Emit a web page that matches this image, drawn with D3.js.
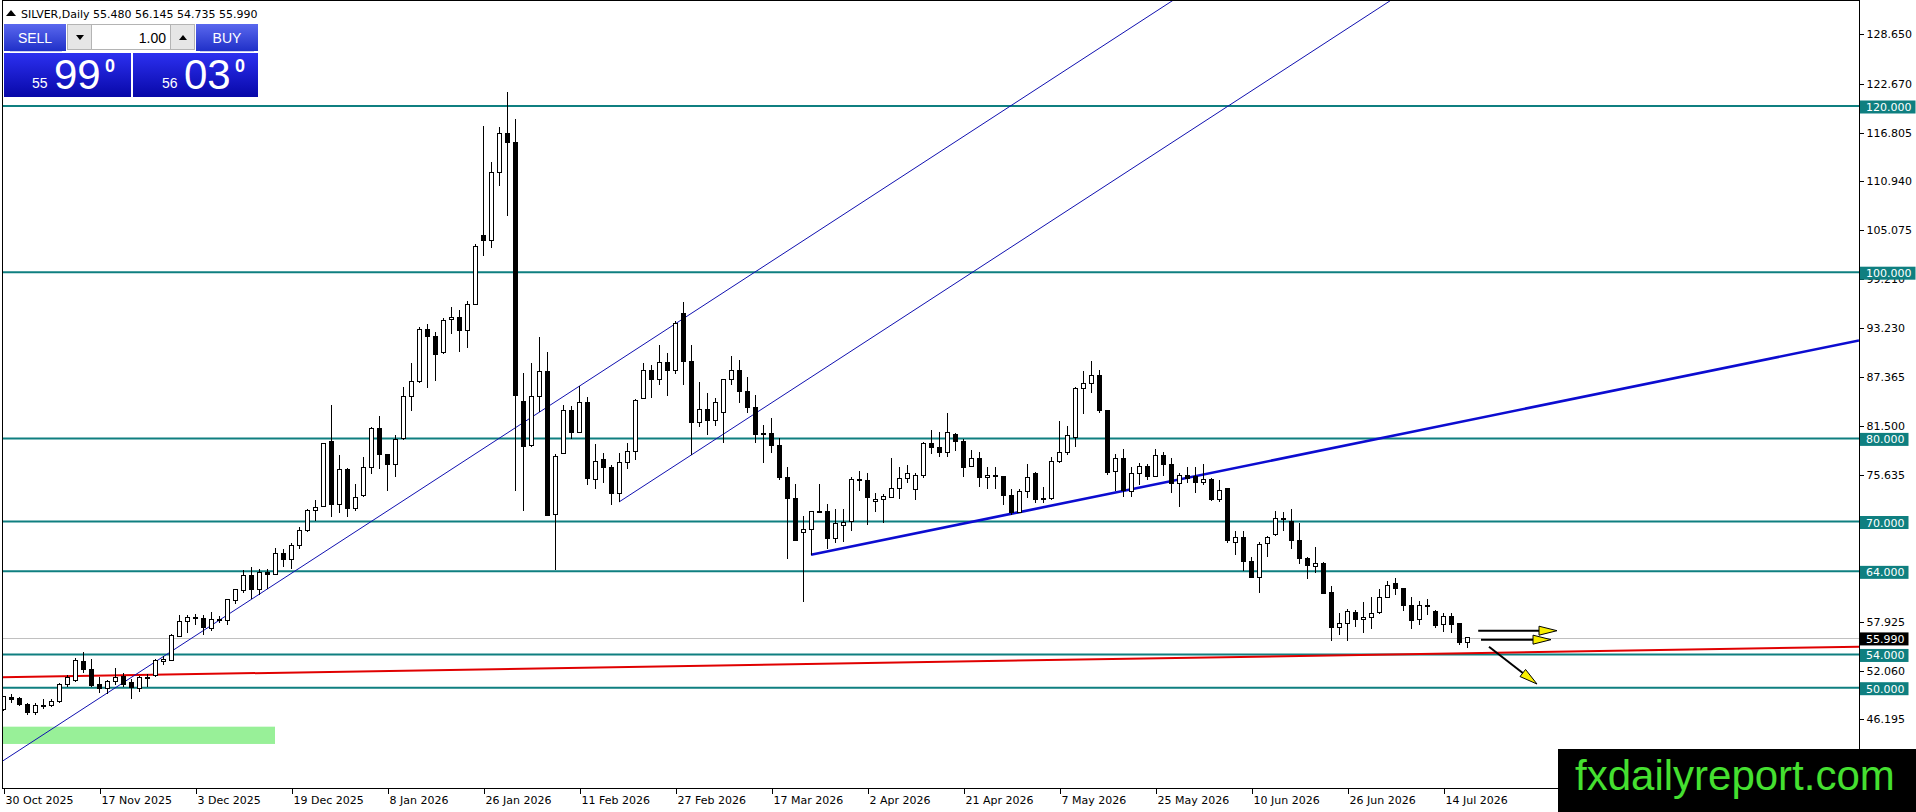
<!DOCTYPE html>
<html>
<head>
<meta charset="utf-8">
<script src="https://cdnjs.cloudflare.com/ajax/libs/d3/7.8.5/d3.min.js"></script>
<style>
  html, body { margin: 0; padding: 0; background: #fff; overflow: hidden; }
  #chart { width: 1916px; height: 812px; }
  svg { display: block; }
  .axis text { font-family: "DejaVu Sans", sans-serif; font-size: 11px; fill: #000; }
  .axis line { stroke: #000; shape-rendering: crispEdges; }
</style>
</head>
<body>
<div id="chart"></div>
<script>
//data
const tickLabels = ["30 Oct 2025","17 Nov 2025","3 Dec 2025","19 Dec 2025","8 Jan 2026","26 Jan 2026",
    "11 Feb 2026","27 Feb 2026","17 Mar 2026","2 Apr 2026","21 Apr 2026","7 May 2026",
    "25 May 2026","10 Jun 2026","26 Jun 2026","14 Jul 2026"];

const opens = [47.40,48.84,48.68,47.98,46.99,47.75,47.88,48.28,50.36,50.84,
    53.18,52.21,50.36,49.96,50.69,51.33,50.60,49.96,51.09,51.49,
    53.18,53.25,56.14,57.91,58.47,58.31,57.11,58.23,58.07,60.48,
    61.67,63.52,61.84,63.92,63.68,66.17,65.45,67.13,68.90,71.30,
    71.80,79.57,72.02,76.20,71.62,73.07,76.52,81.25,78.04,76.84,
    79.97,85.10,86.87,93.16,92.24,90.36,94.33,94.57,92.96,96.13,
    104.40,103.84,112.02,116.67,115.63,84.50,79.13,85.07,88.11,70.86,
    78.24,83.30,80.73,84.26,75.10,77.48,76.52,73.39,77.08,78.45,
    84.78,88.23,87.11,89.19,88.15,94.97,89.27,81.89,83.50,82.13,
    83.10,87.03,88.23,85.66,83.74,80.55,80.60,79.17,75.31,72.75,
    68.65,69.06,71.23,71.23,67.93,69.54,69.94,75.08,74.91,72.35,
    72.67,72.91,73.95,75.23,73.87,75.48,79.41,78.93,78.28,80.45,
    79.65,76.60,77.64,75.32,75.56,75.47,73.07,71.14,73.63,75.80,
    72.80,72.75,77.24,78.28,80.13,86.06,86.55,87.51,83.34,76.04,
    77.56,73.63,75.80,76.60,75.39,77.96,76.84,74.59,75.50,75.40,
    74.67,75.10,72.59,73.95,67.45,68.10,65.21,63.28,67.30,68.41,
    70.20,69.94,67.77,65.53,64.56,64.96,61.50,57.26,57.75,59.00,
    58.23,58.47,59.03,60.87,62.48,61.92,59.91,58.23,59.91,59.19,
    57.58,58.54,57.67,55.48];

const highs = [49.00,49.24,48.92,48.10,48.10,48.68,48.68,50.52,51.49,53.57,
    54.30,53.41,51.33,50.93,52.37,51.73,51.09,51.41,51.65,53.50,
    53.81,56.46,58.79,58.71,58.87,58.71,59.11,58.63,60.70,61.84,
    64.16,64.56,64.32,64.24,66.81,66.65,67.37,69.30,71.54,72.59,
    79.40,83.98,77.96,76.40,74.51,77.72,81.40,82.70,78.10,80.37,
    86.22,89.04,93.37,93.73,92.84,94.53,95.81,95.41,96.53,103.36,
    117.63,113.30,117.47,121.64,118.44,87.87,89.07,92.20,90.44,78.09,
    84.02,83.86,86.27,84.98,79.33,78.20,76.84,78.20,79.41,84.70,
    89.04,88.80,91.28,90.32,94.09,96.41,91.20,86.79,85.42,84.86,
    87.10,89.92,89.43,87.35,85.26,81.57,82.45,80.05,76.60,74.51,
    70.66,71.30,74.51,72.11,71.47,71.54,75.32,76.04,75.80,73.47,
    73.30,77.64,76.60,76.76,75.80,79.57,81.01,80.77,83.10,80.61,
    79.89,78.60,78.36,76.60,76.60,75.50,73.87,73.87,76.92,75.96,
    74.11,77.72,82.13,81.49,86.22,88.15,89.35,88.23,83.40,78.12,
    78.76,76.52,77.08,76.92,78.68,78.36,77.64,75.88,76.52,76.60,
    76.92,75.20,74.99,74.00,68.90,68.90,65.76,67.53,68.26,71.23,
    71.14,71.54,69.78,65.76,66.97,65.10,62.24,59.03,59.51,59.35,
    60.31,60.87,61.92,62.80,63.20,62.00,60.95,60.47,60.64,59.35,
    58.95,58.95,57.84,56.145];

const lows = [47.20,48.20,47.80,46.76,46.76,47.40,47.72,48.20,50.05,50.69,
    51.73,50.05,49.40,49.24,50.28,50.12,48.60,49.48,50.05,51.25,
    52.77,53.20,56.07,56.54,57.51,56.38,56.80,57.83,57.50,60.07,
    61.36,60.71,61.20,61.92,63.60,64.56,64.32,66.65,68.75,70.02,
    71.70,70.50,71.06,70.50,71.22,72.90,75.72,76.28,73.71,75.40,
    79.80,83.34,86.70,86.10,86.91,90.12,92.53,90.44,90.84,96.00,
    101.98,102.95,110.41,106.80,73.67,71.26,79.00,83.21,70.62,64.13,
    78.10,79.93,80.60,74.39,73.87,74.59,71.95,72.35,76.36,77.40,
    84.70,84.86,86.47,85.10,87.75,86.47,77.96,81.41,80.45,81.49,
    79.49,86.47,84.30,83.02,79.41,77.00,78.20,74.99,65.45,67.60,
    60.30,66.00,70.99,66.65,67.38,67.53,68.90,73.71,69.54,71.14,
    69.78,72.80,72.75,74.67,72.59,75.23,78.12,77.80,77.80,78.52,
    75.32,76.50,74.11,73.87,73.87,71.95,70.74,71.00,72.83,72.19,
    72.26,72.60,77.00,78.04,79.00,82.94,85.50,83.02,75.56,73.71,
    72.99,72.99,74.35,74.99,75.30,75.48,73.39,71.70,74.59,73.39,
    74.43,72.50,72.35,67.45,66.00,64.08,63.20,61.43,65.76,68.30,
    68.82,66.73,64.88,63.12,63.84,61.30,55.58,56.30,55.58,57.34,
    56.54,57.02,58.87,60.80,61.20,59.27,57.10,57.50,58.78,57.18,
    56.70,56.54,55.18,54.735];

const closes = [48.92,48.55,47.96,46.99,47.88,47.82,48.28,50.36,51.17,53.25,
    52.13,50.28,49.96,50.69,51.25,50.44,50.05,51.25,51.25,53.25,
    53.41,56.30,57.91,58.47,58.39,57.19,58.23,58.07,60.64,61.76,
    63.52,61.84,63.92,63.60,66.17,65.45,67.13,68.90,71.30,71.70,
    79.33,72.02,76.20,71.54,72.83,76.52,81.25,78.04,76.84,79.81,
    85.10,86.87,93.13,92.24,90.12,94.21,94.57,92.96,96.13,103.12,
    103.84,112.02,116.67,115.63,85.14,79.05,85.07,88.11,70.78,77.77,
    83.30,80.73,84.26,75.20,77.24,76.52,73.39,77.08,78.45,84.62,
    88.23,87.11,89.19,88.15,93.77,89.27,81.89,83.50,82.13,84.30,
    87.03,88.23,85.66,83.74,80.45,80.45,79.17,75.31,72.75,67.69,
    69.06,71.23,71.07,67.93,69.70,69.86,75.08,74.91,72.91,72.67,
    72.99,73.95,75.23,75.80,75.56,79.41,78.93,78.28,80.77,79.65,
    76.52,77.64,75.32,75.56,75.39,73.07,71.14,73.63,75.32,72.67,
    72.67,77.24,78.28,80.29,86.06,86.55,87.51,83.34,75.88,77.56,
    73.71,75.80,76.60,75.39,77.96,76.84,74.59,75.56,75.15,74.67,
    75.07,72.59,73.79,67.69,68.10,65.21,63.28,67.21,68.10,70.42,
    70.40,67.77,65.53,64.72,64.96,61.36,57.26,57.75,59.11,58.23,
    58.47,58.95,60.87,62.32,61.92,59.91,58.07,59.91,59.85,57.50,
    58.54,57.58,55.42,55.99];

const priceTicks = [128.65,122.67,116.805,110.94,105.075,99.21,93.23,87.365,81.5,75.635,69.77,63.905,57.925,52.06,46.195];
const levels = [120, 100, 80, 70, 64, 54, 50];
const lastPrice = 55.99;

//drawings anchored as [bar, price]
const channelLow = [[-1, 40.58], [160, 141.32]];
const channelHigh = [[77, 72.35], [180, 136.8]];
const trendLine = [[101, 66.0], [232, 91.79]];
const redLine = [[-1, 51.24], [232, 54.93]];
const arrows = [
    [[184.4, 56.86], [194.25, 56.86]],
    [[184.75, 55.78], [193.5, 55.78]],
    [[185.75, 54.93], [191.75, 50.44]]
];
const zone = {bars: [0, 34], prices: [43.23, 45.31]};

//define dim
const width = 1916;
const height = 812;
const plotRight = 1859;
const plotBottom = 788;

const svg = d3.select("#chart")
    .append("svg")
    .attr("width", width)
    .attr("height", height);

//scales
const xScale = d3.scaleLinear()
    .domain([0, 232])
    .range([3, plotRight]);
const yScale = d3.scaleLinear()
    .domain([50, 120])
    .range([687.7, 106]);

const defs = svg.append("defs");
defs.append("clipPath").attr("id", "plotClip")
    .append("rect").attr("x", 2).attr("y", 0).attr("width", plotRight - 2).attr("height", plotBottom);

function grad(id, top, bottom) {
    const g = defs.append("linearGradient").attr("id", id)
        .attr("x1", 0).attr("y1", 0).attr("x2", 0).attr("y2", 1);
    g.append("stop").attr("offset", "0%").attr("stop-color", top);
    g.append("stop").attr("offset", "100%").attr("stop-color", bottom);
}
grad("btnGrad", "#5a68ee", "#2030c8");
grad("boxGrad", "#2c30f0", "#0808a8");

const plot = svg.append("g").attr("clip-path", "url(#plotClip)");

//green zone
plot.append("rect")
    .attr("x", xScale(zone.bars[0]))
    .attr("y", yScale(zone.prices[1]))
    .attr("width", xScale(zone.bars[1]) - xScale(zone.bars[0]))
    .attr("height", yScale(zone.prices[0]) - yScale(zone.prices[1]))
    .attr("fill", "#98f098");

//current price line
plot.append("line")
    .attr("x1", 0).attr("x2", plotRight)
    .attr("y1", Math.round(yScale(lastPrice)) + 0.5).attr("y2", Math.round(yScale(lastPrice)) + 0.5)
    .attr("stroke", "#c0c0c0").attr("stroke-width", 1);

//horizontal levels
plot.selectAll(".level")
    .data(levels)
    .enter()
    .append("line")
        .attr("x1", 0).attr("x2", plotRight)
        .attr("y1", d => yScale(d)).attr("y2", d => yScale(d))
        .attr("stroke", "#0f7f80").attr("stroke-width", 2);

//trend lines
const lineGen = d3.line().x(d => xScale(d[0])).y(d => yScale(d[1]));
plot.append("path").attr("d", lineGen(redLine))
    .attr("stroke", "#e00000").attr("stroke-width", 2).attr("fill", "none");
plot.append("path").attr("d", lineGen(channelLow))
    .attr("stroke", "#1010b0").attr("stroke-width", 1).attr("fill", "none");
plot.append("path").attr("d", lineGen(channelHigh))
    .attr("stroke", "#1010b0").attr("stroke-width", 1).attr("fill", "none");
plot.append("path").attr("d", lineGen(trendLine))
    .attr("stroke", "#0c0cd0").attr("stroke-width", 2.6).attr("fill", "none");

//candles
const candles = opens.map((o, i) => ({i: i, o: o, h: highs[i], l: lows[i], c: closes[i]}));
plot.selectAll(".wick")
    .data(candles)
    .enter()
    .append("line")
        .attr("x1", d => xScale(d.i) + 0.5)
        .attr("x2", d => xScale(d.i) + 0.5)
        .attr("y1", d => yScale(d.h))
        .attr("y2", d => yScale(d.l))
        .attr("stroke", "#000")
        .attr("stroke-width", 1)
        .attr("shape-rendering", "crispEdges");
plot.selectAll(".body")
    .data(candles)
    .enter()
    .append("rect")
        .attr("x", d => xScale(d.i) - 1.5)
        .attr("y", d => yScale(Math.max(d.o, d.c)))
        .attr("width", 4)
        .attr("height", d => Math.max(1, yScale(Math.min(d.o, d.c)) - yScale(Math.max(d.o, d.c))))
        .attr("fill", d => d.c >= d.o ? "#fff" : "#000")
        .attr("stroke", "#000")
        .attr("stroke-width", 1)
        .attr("shape-rendering", "crispEdges");

//arrows
arrows.forEach(function(a) {
    const x1 = xScale(a[0][0]), y1 = yScale(a[0][1]);
    const x2 = xScale(a[1][0]), y2 = yScale(a[1][1]);
    const ang = Math.atan2(y2 - y1, x2 - x1);
    const hl = 18, hw = 4.5;
    const bx = x2 - hl * Math.cos(ang), by = y2 - hl * Math.sin(ang);
    plot.append("line")
        .attr("x1", x1).attr("y1", y1).attr("x2", bx).attr("y2", by)
        .attr("stroke", "#000").attr("stroke-width", 2);
    plot.append("polygon")
        .attr("points", [[x2, y2],
            [bx - hw * Math.sin(ang), by + hw * Math.cos(ang)],
            [bx + hw * Math.sin(ang), by - hw * Math.cos(ang)]].map(p => p.join(",")).join(" "))
        .attr("fill", "#f8ee00").attr("stroke", "#000").attr("stroke-width", 1);
});

//frame
svg.append("rect")
    .attr("x", 2.5).attr("y", 0.5)
    .attr("width", plotRight - 2).attr("height", plotBottom)
    .attr("fill", "none").attr("stroke", "#000").attr("stroke-width", 1)
    .attr("shape-rendering", "crispEdges");

//axes
const yAxis = svg.append("g")
    .attr("class", "axis")
    .attr("transform", `translate(${plotRight + 0.5},0)`)
    .call(d3.axisRight(yScale).tickValues(priceTicks).tickSize(4).tickPadding(3).tickFormat(d3.format(".3f")));
yAxis.select(".domain").remove();

const xAxis = svg.append("g")
    .attr("class", "axis")
    .attr("transform", `translate(0,${plotBottom + 0.5})`)
    .call(d3.axisBottom(xScale).tickValues(d3.range(0, tickLabels.length * 12, 12)).tickSize(5)
        .tickFormat((d, i) => tickLabels[i]));
xAxis.select(".domain").remove();
xAxis.selectAll(".tick line").attr("transform", "translate(0.5,0)");
xAxis.selectAll(".tick text").attr("text-anchor", "start").attr("dx", 2);

//price labels on the axis
function priceLabel(value, fill) {
    const yy = yScale(value);
    const g = svg.append("g");
    const r = g.append("rect").attr("fill", fill);
    const t = g.append("text")
        .attr("x", plotRight + 7).attr("y", yy + 5)
        .attr("font-family", "DejaVu Sans, sans-serif").attr("font-size", 11)
        .attr("fill", "#fff")
        .text(d3.format(".3f")(value));
    const w = t.node().getComputedTextLength();
    r.attr("x", plotRight + 1).attr("y", yy - 5.5).attr("width", w + 10).attr("height", 13);
}
levels.forEach(v => priceLabel(v, "#0f7f80"));
priceLabel(lastPrice, "#000");

//header
svg.append("path").attr("d", "M6,16 L11,10 L16,16 Z").attr("fill", "#000");
svg.append("text")
    .attr("x", 21).attr("y", 18)
    .attr("font-family", "DejaVu Sans, sans-serif").attr("font-size", 11)
    .text("SILVER,Daily  55.480 56.145 54.735 55.990");

//one click panel
const panel = svg.append("g").attr("font-family", "Liberation Sans, Arial, sans-serif");
panel.append("rect").attr("x", 4).attr("y", 24).attr("width", 62).attr("height", 27).attr("fill", "url(#btnGrad)");
panel.append("rect").attr("x", 196).attr("y", 24).attr("width", 62).attr("height", 27).attr("fill", "url(#btnGrad)");
panel.append("line").attr("x1", 10).attr("x2", 62).attr("y1", 51.5).attr("y2", 51.5).attr("stroke", "#c8ccf0");
panel.append("line").attr("x1", 200).attr("x2", 254).attr("y1", 51.5).attr("y2", 51.5).attr("stroke", "#c8ccf0");
panel.append("text").attr("x", 35).attr("y", 43).attr("text-anchor", "middle")
    .attr("font-size", 14).attr("fill", "#fff").text("SELL");
panel.append("text").attr("x", 227).attr("y", 43).attr("text-anchor", "middle")
    .attr("font-size", 14).attr("fill", "#fff").text("BUY");
panel.append("rect").attr("x", 67.5).attr("y", 24.5).attr("width", 24).attr("height", 25)
    .attr("fill", "#e6e6e6").attr("stroke", "#b4b4b4");
panel.append("rect").attr("x", 91.5).attr("y", 24.5).attr("width", 79).attr("height", 25)
    .attr("fill", "#fff").attr("stroke", "#b4b4b4");
panel.append("rect").attr("x", 170.5).attr("y", 24.5).attr("width", 24).attr("height", 25)
    .attr("fill", "#e6e6e6").attr("stroke", "#b4b4b4");
panel.append("path").attr("d", "M76,35 L84,35 L80,40 Z").attr("fill", "#000");
panel.append("path").attr("d", "M179,40 L187,40 L183,35 Z").attr("fill", "#000");
panel.append("text").attr("x", 166).attr("y", 43).attr("text-anchor", "end")
    .attr("font-size", 14).attr("fill", "#000").text("1.00");

panel.append("rect").attr("x", 4).attr("y", 53).attr("width", 127).attr("height", 44).attr("fill", "url(#boxGrad)");
panel.append("rect").attr("x", 133).attr("y", 53).attr("width", 125).attr("height", 44).attr("fill", "url(#boxGrad)");
[["55", "99", 32], ["56", "03", 162]].forEach(function(p) {
    panel.append("text").attr("x", p[2]).attr("y", 88).attr("font-size", 14).attr("fill", "#fff").text(p[0]);
    panel.append("text").attr("x", p[2] + 22).attr("y", 89).attr("font-size", 42).attr("fill", "#fff").text(p[1]);
    panel.append("text").attr("x", p[2] + 73).attr("y", 72).attr("font-size", 18).attr("font-weight", "bold")
        .attr("fill", "#fff").text("0");
});

//logo
svg.append("rect").attr("x", 1558).attr("y", 749).attr("width", 358).attr("height", 63).attr("fill", "#000");
svg.append("text")
    .attr("x", 1575).attr("y", 790)
    .attr("font-family", "Liberation Sans, Arial, sans-serif").attr("font-size", 42)
    .attr("fill", "#45e030")
    .text("fxdailyreport.com");
</script>
</body>
</html>
